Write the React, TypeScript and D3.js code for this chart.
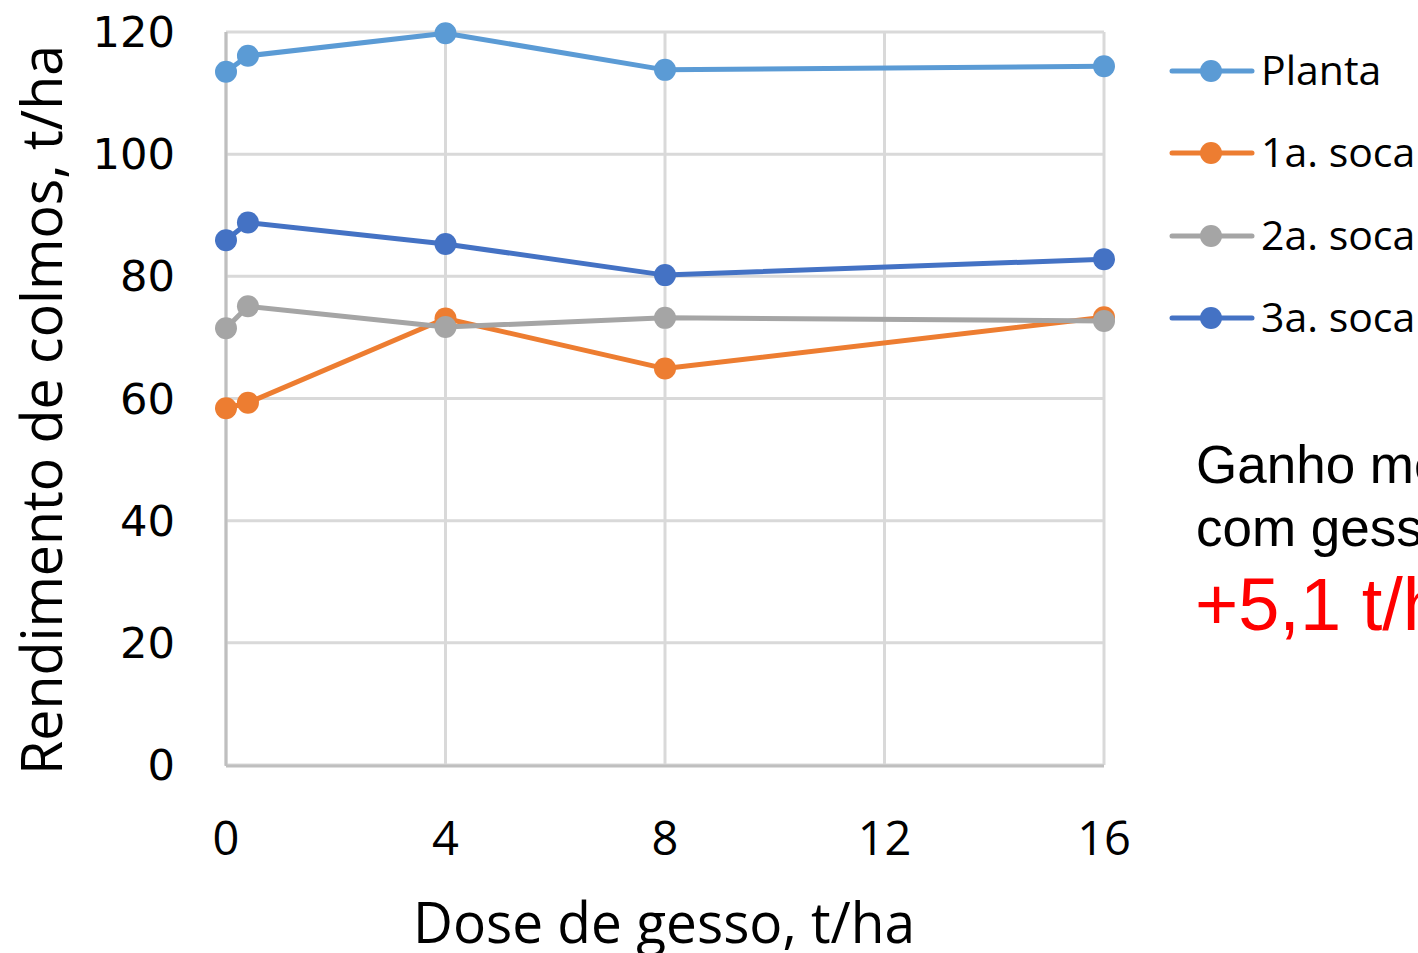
import React from "react";
import * as d3 from "d3";

// Gypsum dose (t/ha) and stalk yield (t/ha) per crop cycle
const doses = [0, 0.4, 4, 8, 16];
const planta = [113.5, 116.1, 119.8, 113.8, 114.4];
const soca1 = [58.4, 59.3, 73.1, 64.9, 73.3];
const soca2 = [71.5, 75.1, 71.7, 73.2, 72.7];
const soca3 = [85.9, 88.8, 85.3, 80.2, 82.8];

const seriesNames = ["Planta", "1a. soca", "2a. soca", "3a. soca"];
const seriesColors = ["#5B9BD5", "#ED7D31", "#A5A5A5", "#4472C4"];
const xTicks = [0, 4, 8, 12, 16];
const yTicks = [0, 20, 40, 60, 80, 100, 120];

const W = 1418;
const H = 953;
const plot = { left: 226, right: 1104, top: 32, bottom: 765 };

export default function App() {
  const x = d3.scaleLinear().domain([0, 16]).range([plot.left, plot.right]);
  const y = d3.scaleLinear().domain([0, 120]).range([plot.bottom, plot.top]);
  const allSeries = [planta, soca1, soca2, soca3];
  const line = d3
    .line<number>()
    .x((_, i) => x(doses[i]))
    .y((v) => y(v));

  const legendY = [71, 153, 236, 318];

  return (
    <svg
      width={W}
      height={H}
      style={{ position: "absolute", left: 0, top: 0, background: "#fff", overflow: "hidden" }}
    >
      {/* grid */}
      {yTicks.map((t) => (
        <line key={"gy" + t} x1={plot.left} x2={plot.right} y1={y(t)} y2={y(t)} stroke="#d9d9d9" strokeWidth={3} />
      ))}
      {xTicks.map((t) => (
        <line key={"gx" + t} x1={x(t)} x2={x(t)} y1={plot.top} y2={plot.bottom} stroke="#d9d9d9" strokeWidth={3} />
      ))}
      {/* axis lines */}
      <line x1={plot.left} x2={plot.left} y1={plot.top} y2={plot.bottom + 1} stroke="#bfbfbf" strokeWidth={3} />
      <line x1={plot.left} x2={plot.right} y1={plot.bottom + 1} y2={plot.bottom + 1} stroke="#bfbfbf" strokeWidth={3} />

      {/* y tick labels */}
      {yTicks.map((t) => {
        const s = String(t);
        return (
          <text
            key={"ty" + t}
            x={175}
            y={y(t) + 15}
            textAnchor="end"
            fontFamily="DejaVu Sans"
            fontSize={42}
            textLength={s.length * 27.5}
            lengthAdjust="spacingAndGlyphs"
            fill="#000"
          >
            {s}
          </text>
        );
      })}
      {/* x tick labels */}
      {xTicks.map((t) => (
        <text
          key={"tx" + t}
          x={x(t)}
          y={855}
          textAnchor="middle"
          fontFamily="Open Sans"
          fontSize={47}
          fill="#000"
        >
          {t}
        </text>
      ))}

      {/* axis titles */}
      <text
        x={664}
        y={943}
        textAnchor="middle"
        fontFamily="Open Sans"
        fontSize={56}
        textLength={502}
        lengthAdjust="spacingAndGlyphs"
        fill="#000"
      >
        Dose de gesso, t/ha
      </text>
      <text
        transform={`translate(62, ${(45 + 775) / 2}) rotate(-90)`}
        textAnchor="middle"
        fontFamily="Open Sans"
        fontSize={56}
        textLength={730}
        lengthAdjust="spacingAndGlyphs"
        fill="#000"
      >
        Rendimento de colmos, t/ha
      </text>

      {/* series */}
      {allSeries.map((vals, si) => (
        <g key={"s" + si}>
          <path d={line(vals) || ""} fill="none" stroke={seriesColors[si]} strokeWidth={5} strokeLinejoin="round" />
          {vals.map((v, i) => (
            <circle key={i} cx={x(doses[i])} cy={y(v)} r={11} fill={seriesColors[si]} />
          ))}
        </g>
      ))}

      {/* legend */}
      {seriesNames.map((name, i) => (
        <g key={"l" + i}>
          <line x1={1172} x2={1252} y1={legendY[i]} y2={legendY[i]} stroke={seriesColors[i]} strokeWidth={5} strokeLinecap="round" />
          <circle cx={1211} cy={legendY[i]} r={11} fill={seriesColors[i]} />
          <text x={1261} y={legendY[i] + 14} fontFamily="Open Sans" fontSize={41} fill="#000">
            {name}
          </text>
        </g>
      ))}

      {/* annotation */}
      <text x={1196} y={483} fontFamily="Liberation Sans" fontSize={53} fill="#000">
        Ganho médio
      </text>
      <text x={1196} y={546} fontFamily="Liberation Sans" fontSize={53} fill="#000">
        com gesso
      </text>
      <text x={1195} y={630} fontFamily="Liberation Sans" fontSize={74} fill="#ff0000">
        +5,1 t/ha
      </text>
    </svg>
  );
}
